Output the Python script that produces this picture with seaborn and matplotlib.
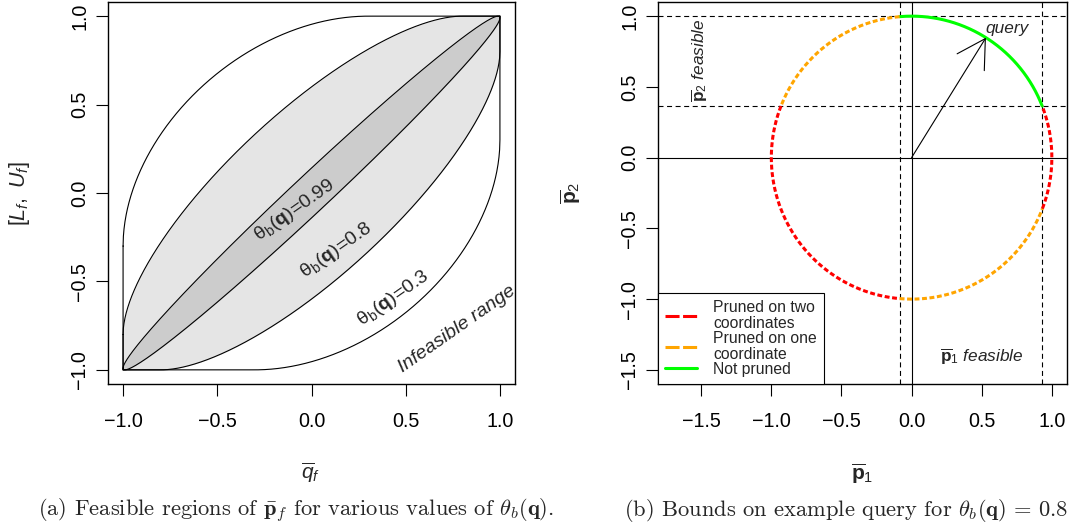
import numpy as np
import matplotlib
matplotlib.use("Agg")
import matplotlib.pyplot as plt
import seaborn as sns
from matplotlib.lines import Line2D

# -------------------------
# Values
# -------------------------

# (a) bound curves for each threshold, drawn outermost first
thetas = [0.3, 0.8, 0.99]
theta_fills = ["white", "#E5E5E5", "#CCCCCC"]
theta_text = ["0.3", "0.8", "0.99"]
theta_text_x = [0.435, 0.134, -0.09]
theta_text_y = [-0.594, -0.325, -0.10]

# (b) example query and its bounds for theta = 0.8
query = [0.53, 0.848]
p1_bounds = [-0.085, 0.933]
p2_bounds = [0.365, 1.0]

# arcs of the unit circle (degrees) and how they are pruned
arc_start = [21.4, 94.9, 158.6, 265.1, 338.9]
arc_end = [94.9, 158.6, 265.1, 338.9, 381.4]
arc_status = ["none", "one", "two", "one", "two"]

status_color = {"two": "#FF0000", "one": "#FFA500", "none": "#00FF00"}
status_label = {"two": "Pruned on two\ncoordinates",
                "one": "Pruned on one\ncoordinate",
                "none": "Not pruned"}

# -------------------------
# Style
# -------------------------

sns.set_theme(style="ticks")
plt.rcParams["font.family"] = ["Liberation Sans", "DejaVu Sans"]
plt.rcParams["mathtext.fontset"] = "custom"
plt.rcParams["mathtext.rm"] = "Liberation Sans"
plt.rcParams["mathtext.it"] = "Liberation Sans:italic"
plt.rcParams["mathtext.bf"] = "Liberation Sans:bold"
plt.rcParams["axes.unicode_minus"] = True

W, H = 1071, 526
fig = plt.figure(figsize=(W / 100, H / 100), dpi=100)

def px_axes(x0, x1, y0, y1):
    return fig.add_axes([x0 / W, 1 - y1 / H, (x1 - x0) / W, (y1 - y0) / H])

ax1 = px_axes(108, 515, 2, 384)
ax2 = px_axes(658, 1067, 2, 384)

for ax in (ax1, ax2):
    for sp in ax.spines.values():
        sp.set_color("black")
        sp.set_linewidth(1.0)
    ax.tick_params(direction="out", length=8.5, width=0.8, color="black",
                   labelsize=14.25, labelcolor="black")
    ax.tick_params(axis="x", pad=12)
    ax.tick_params(axis="y", pad=5, labelrotation=90)
    ax.grid(False)

# -------------------------
# (a) Feasible regions
# -------------------------

q = np.linspace(-1, 1, 1201)
for th, fc in zip(thetas, theta_fills):
    a = np.arccos(th)
    upper = np.cos(np.clip(np.arccos(q) - a, 0, np.pi))
    lower = np.cos(np.clip(np.arccos(q) + a, 0, np.pi))
    ax1.fill_between(q, lower, upper, color=fc, lw=0, zorder=1)
    xs = np.concatenate([q, q[::-1], q[:1]])
    ys = np.concatenate([upper, lower[::-1], upper[:1]])
    sns.lineplot(x=xs, y=ys, sort=False, estimator=None, color="black",
                 lw=0.8, ax=ax1, zorder=2)

for txt, tx, ty in zip(theta_text, theta_text_x, theta_text_y):
    ax1.text(tx, ty, r"$\mathrm{\theta}_\mathrm{b}(\mathbf{q})$=" + txt,
             rotation=35, ha="center", va="center", fontsize=14, zorder=3)
ax1.text(0.77, -0.77, "Infeasible range", style="italic", rotation=35,
         ha="center", va="center", fontsize=14, zorder=3)

ax1.set_xlim(-1.08, 1.08)
ax1.set_ylim(-1.08, 1.08)
ax1.set_xticks([-1.0, -0.5, 0.0, 0.5, 1.0])
ax1.set_yticks([-1.0, -0.5, 0.0, 0.5, 1.0])
ax1.set_xticklabels(["\u22121.0", "\u22120.5", "0.0", "0.5", "1.0"])
ax1.set_yticklabels(["\u22121.0", "\u22120.5", "0.0", "0.5", "1.0"], va="center")

# -------------------------
# (b) Bounds on example query
# -------------------------

ax2.axvline(0, color="black", lw=0.8, zorder=1)
ax2.axhline(0, color="black", lw=0.8, zorder=1)
for b in p1_bounds:
    ax2.axvline(b, color="black", lw=0.8, ls=(0, (4.5, 3.2)), zorder=1)
for b in p2_bounds:
    ax2.axhline(b, color="black", lw=0.8, ls=(0, (4.5, 3.2)), zorder=1)

for s, e, st in zip(arc_start, arc_end, arc_status):
    t = np.radians(np.linspace(s, e, 300))
    ls = "-" if st == "none" else (0, (1.6, 0.85))
    sns.lineplot(x=np.cos(t), y=np.sin(t), sort=False, estimator=None,
                 color=status_color[st], lw=2.2, linestyle=ls, ax=ax2, zorder=2)

ax2.annotate("", xy=(query[0], query[1]), xytext=(0, 0),
             arrowprops=dict(arrowstyle="->,head_length=2.0,head_width=1.15",
                             mutation_scale=10, lw=0.8, color="black",
                             shrinkA=0, shrinkB=0), zorder=3)
ax2.text(0.68, 0.91, "query", style="italic", ha="center", va="center", fontsize=12.4)
ax2.text(-1.513, 0.686, r"$\overline{\mathbf{p}}_2$ feasible", style="italic",
         rotation=90, ha="center", va="center", fontsize=12.4)
ax2.text(0.50, -1.40, r"$\overline{\mathbf{p}}_1$ feasible", style="italic",
         ha="center", va="center", fontsize=12.4)

handles = [Line2D([], [], color=status_color["two"], lw=2.2, ls=(0, (4.6, 1.15))),
           Line2D([], [], color=status_color["one"], lw=2.2, ls=(0, (4.6, 1.15))),
           Line2D([], [], color=status_color["none"], lw=2.2)]
labels = [status_label["two"], status_label["one"], status_label["none"]]
leg = ax2.legend(handles, labels, loc="lower left", fontsize=11.3, frameon=True,
                 fancybox=False, borderaxespad=0, handlelength=2.05,
                 handletextpad=1.0, labelspacing=0.0, borderpad=0.45)
for t in leg.get_texts():
    t.set_linespacing(1.07)
leg.get_frame().set_edgecolor("black")
leg.get_frame().set_linewidth(0.8)
leg.get_frame().set_alpha(1)

ax2.set_xlim(-1.808, 1.108)
ax2.set_ylim(-1.6, 1.1)
ax2.set_xticks([-1.5, -1.0, -0.5, 0.0, 0.5, 1.0])
ax2.set_yticks([-1.5, -1.0, -0.5, 0.0, 0.5, 1.0])
ax2.set_xticklabels(["\u22121.5", "\u22121.0", "\u22120.5", "0.0", "0.5", "1.0"])
ax2.set_yticklabels(["\u22121.5", "\u22121.0", "\u22120.5", "0.0", "0.5", "1.0"], va="center")

# -------------------------
# Axis labels and captions
# -------------------------

fig.text(20 / W, 1 - 193 / H, r"$[L_f,\ U_f]$", rotation=90, ha="center", va="center", fontsize=15.5)
fig.text(311 / W, 1 - 473 / H, r"$\overline{q}_f$", ha="center", va="center", fontsize=15)
fig.text(571 / W, 1 - 193 / H, r"$\overline{\mathbf{p}}_2$", rotation=90, ha="center", va="center", fontsize=15)
fig.text(862 / W, 1 - 474 / H, r"$\overline{\mathbf{p}}_1$", ha="center", va="center", fontsize=15)

fig.text(296 / W, 1 - 511 / H,
         r"(a) Feasible regions of $\bar{\mathbf{p}}_f$ for various values of $\theta_b(\mathbf{q})$.",
         family="cmr10", math_fontfamily="cm", ha="center", va="center", fontsize=16.2)
fig.text(846 / W, 1 - 511 / H,
         r"(b) Bounds on example query for $\theta_b(\mathbf{q})\,=\,0.8$",
         family="cmr10", math_fontfamily="cm", ha="center", va="center", fontsize=16.2)

fig.savefig("out.png", dpi=100)
